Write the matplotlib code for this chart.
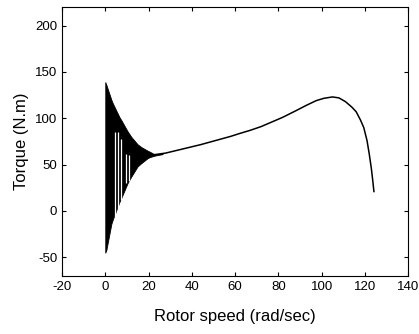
import matplotlib
matplotlib.use("Agg")
import matplotlib.pyplot as plt

# Transient envelope (dense oscillation band)
env_speed = [0, 0.5, 2.8, 3.5, 6.6, 7.4, 10.3, 12.0, 14.9, 16.6, 19.6, 20.5, 22.5, 24.5, 26.5]
env_upper = [139, 136, 120, 116, 101, 98, 86, 80, 72, 69, 65, 64, 61.5, 61.5, 61.8]
env_lower = [-45, -42, -14, -9, 10, 14, 30, 37, 48, 51.5, 57, 58, 59.5, 60.5, 61.3]

# White gaps inside the band
gap_speed = [4.6, 6.0, 7.5, 9.7, 10.8]
gap_low = [-6, -6, 12, 30, 32]
gap_high = [85, 85, 78, 62, 60]

# Steady torque-speed curve
curve_speed = [22, 28, 36, 44, 51, 58, 62, 67, 72, 77, 82, 88, 93, 97.5, 101,
               105, 108, 111, 114, 116, 118, 119.5, 121, 122, 123, 123.6, 124.2]
curve_torque = [60.5, 62.5, 67, 71.5, 76, 80.5, 83.5, 87, 91, 96, 101, 108, 114, 119,
                121.5, 123, 122, 118, 112, 107, 98, 90, 76, 62, 46, 34, 21]

xticks = [-20, 0, 20, 40, 60, 80, 100, 120, 140]
yticks = [-50, 0, 50, 100, 150, 200]

plt.rcParams['font.family'] = ['Liberation Sans', 'DejaVu Sans']
plt.rcParams['axes.unicode_minus'] = False

fig = plt.figure(figsize=(4.19, 3.34), dpi=100)
ax = fig.add_axes([0.148, 0.174, 0.826, 0.805])

ax.fill_between(env_speed, env_lower, env_upper, color='black', lw=0.6, edgecolor='black')
for gx, lo, hi in zip(gap_speed, gap_low, gap_high):
    ax.plot([gx, gx], [lo, hi], color='white', lw=0.9, solid_capstyle='butt')
ax.plot(curve_speed, curve_torque, color='black', lw=1.1)

ax.set_xlim(-20, 140)
ax.set_ylim(-70, 220)
ax.set_xticks(xticks)
ax.set_yticks(yticks)
ax.tick_params(direction='in', length=3, width=0.8, top=True, right=True,
               labelsize=9.5, pad=3.5, colors='black')
for s in ax.spines.values():
    s.set_linewidth(0.8)
    s.set_color('black')

ax.set_xlabel('Rotor speed (rad/sec)', fontsize=12, labelpad=12)
ax.set_ylabel('Torque (N.m)', fontsize=12, labelpad=4)

fig.savefig('out.png', dpi=100)
